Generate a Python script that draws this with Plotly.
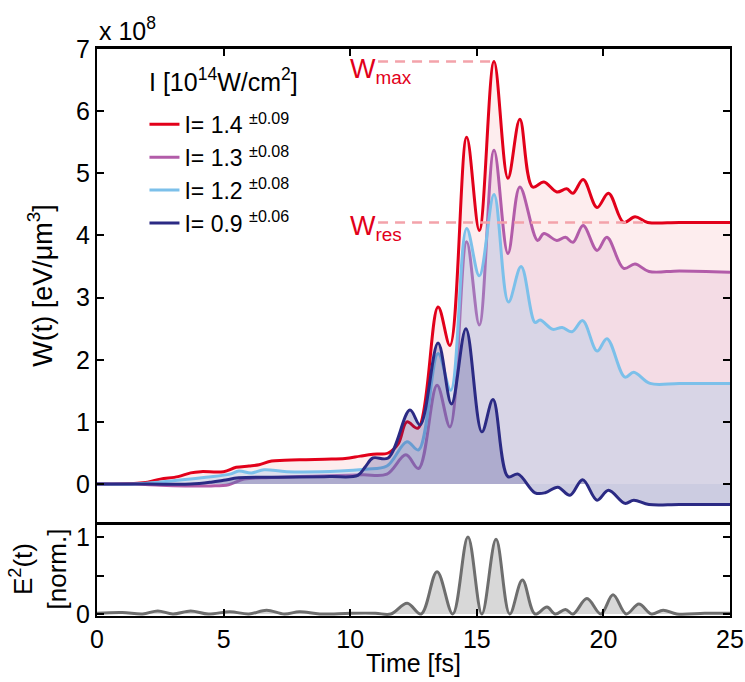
import plotly.graph_objects as go

# ---------------- data ----------------
t_14 = [0, 1.0, 2.0, 2.5, 3.2, 3.7, 4.1, 5.0, 5.5, 6.0, 6.4, 6.9, 8.0, 9.0, 9.8, 10.4, 10.9, 11.5, 11.9,
        12.24, 12.68, 13.47, 13.94, 14.6, 15.1, 15.68, 16.23, 16.7, 17.2, 17.65, 18.16, 18.55, 18.8,
        19.2, 19.75, 20.2, 20.8, 21.25, 21.75, 23.0, 25.0]
w_14 = [0, 0.0, 0.03, 0.08, 0.12, 0.18, 0.2, 0.2, 0.27, 0.29, 0.31, 0.37, 0.39, 0.4, 0.41, 0.45, 0.48, 0.5, 0.65,
        1.0, 0.9, 2.85, 2.23, 5.58, 4.08, 6.8, 4.92, 5.87, 4.78, 4.86, 4.7, 4.75, 4.68,
        4.9, 4.45, 4.68, 4.21, 4.3, 4.21, 4.21, 4.21]

t_13 = [0, 1.5, 2.5, 3.5, 4.5, 5.2, 5.8, 6.5, 8.0, 9.5, 10.5, 11.45, 12.2, 12.7, 13.43, 13.94, 14.6, 15.1,
        15.68, 16.23, 16.7, 17.4, 17.65, 18.16, 18.5, 18.8, 19.2, 19.75, 20.14, 20.8, 21.25, 21.8, 23.0, 25.0]
w_13 = [0, 0.0, -0.02, -0.03, -0.03, -0.01, 0.08, 0.1, 0.12, 0.14, 0.15, 0.16, 0.47, 0.25, 1.59, 0.92, 3.9, 2.56,
        5.37, 3.71, 4.78, 3.92, 4.03, 3.92, 3.97, 3.89, 4.16, 3.76, 3.97, 3.47, 3.54, 3.42, 3.43, 3.41]

t_12 = [0, 1.5, 2.4, 3.7, 4.3, 5.25, 5.6, 6.1, 6.6, 7.5, 9.6, 10.6, 11.45, 12.24, 12.7, 13.47, 13.97, 14.6,
        15.1, 15.68, 16.25, 16.75, 17.3, 17.5, 18.0, 18.37, 18.76, 19.18, 19.75, 20.14, 20.85, 21.2,
        21.84, 23.0, 25.0]
w_12 = [0, 0.0, 0.03, 0.08, 0.11, 0.16, 0.21, 0.18, 0.23, 0.2, 0.21, 0.24, 0.29, 0.68, 0.55, 2.1, 1.51, 4.11,
        3.35, 4.66, 2.93, 3.5, 2.6, 2.64, 2.49, 2.52, 2.45, 2.63, 2.14, 2.34, 1.72, 1.8,
        1.62, 1.62, 1.62]

t_09 = [0, 2.0, 3.7, 4.5, 5.0, 5.6, 7.0, 9.2, 10.3, 10.6, 10.9, 11.5, 12.36, 12.76, 13.47, 14.0, 14.57,
        15.2, 15.64, 16.23, 16.63, 17.3, 17.7, 18.2, 18.68, 19.18, 19.75, 20.2, 20.85, 21.2, 21.8, 23.0, 25.0]
w_09 = [0, 0.0, 0.0, 0.03, 0.06, 0.1, 0.11, 0.12, 0.14, 0.28, 0.42, 0.42, 1.19, 0.95, 2.27, 1.29, 2.5,
        0.84, 1.36, 0.12, 0.16, -0.14, -0.14, -0.05, -0.18, 0.07, -0.26, -0.1, -0.31, -0.26, -0.33, -0.33, -0.33]

t_e2 = [0, 1.0, 1.8, 2.4, 3.0, 3.7, 4.4, 5.25, 6.0, 6.7, 7.4, 8.0, 8.8, 10.0, 11.0, 11.6, 12.25, 12.8, 13.43,
        14.05, 14.65, 15.2, 15.76, 16.3, 16.8, 17.3, 17.77, 18.1, 18.5, 18.8, 19.35, 19.9, 20.38, 20.9,
        21.4, 21.9, 22.36, 22.9, 24.0, 25.0]
e2 = [0.01, 0.02, 0.0, 0.04, 0.0, 0.04, 0.0, 0.03, 0.0, 0.05, 0.0, 0.03, 0.0, 0.01, 0.01, 0.0, 0.14, 0.0, 0.55,
      0.0, 1.0, 0.0, 0.97, 0.0, 0.44, 0.0, 0.09, 0.0, 0.06, 0.0, 0.2, 0.0, 0.25, 0.0,
      0.13, 0.0, 0.05, 0.0, 0.01, 0.01]

labels = ["I= 1.4 <sup>±0.09</sup>", "I= 1.3 <sup>±0.08</sup>", "I= 1.2 <sup>±0.08</sup>", "I= 0.9 <sup>±0.06</sup>"]
legend_title = "I [10<sup>14</sup>W/cm<sup>2</sup>]"
x_ticks = [0, 5, 10, 15, 20, 25]
y_ticks = [0, 1, 2, 3, 4, 5, 6, 7]

# ---------------- styling ----------------
FONT = "Liberation Sans, Arial, sans-serif"
FS = 25
line_cols = ["#e2001a", "#b25ca9", "#7cc0ea", "#2b2a84"]
fill_cols = ["rgba(230,0,18,0.07)", "rgba(170,80,160,0.10)", "rgba(130,190,235,0.25)", "rgba(40,40,130,0.24)"]

series = [(t_14, w_14), (t_13, w_13), (t_12, w_12), (t_09, w_09)]

fig = go.Figure()
for (tt, ww), lab, lc, fc in zip(series, labels, line_cols, fill_cols):
    fig.add_trace(go.Scatter(x=tt, y=ww, mode="lines", name=lab, showlegend=False,
                             line=dict(color=lc, width=3, shape="spline", smoothing=1.0),
                             fill="tozeroy", fillcolor=fc, xaxis="x", yaxis="y"))

# legend entries (line-only samples)
for lab, lc in zip(labels, line_cols):
    fig.add_trace(go.Scatter(x=[None], y=[None], mode="lines", name=lab,
                             line=dict(color=lc, width=3), xaxis="x", yaxis="y"))

# W_max / W_res reference lines
wmax = max(w_14)
t_wmax = t_14[w_14.index(wmax)]
wres = w_14[-1]
t_start = 11.1
fig.add_trace(go.Scatter(x=[t_start, t_wmax], y=[wmax, wmax], mode="lines", showlegend=False,
                         line=dict(color="#f3a3aa", width=2.5, dash="10px,7px"), xaxis="x", yaxis="y"))
fig.add_trace(go.Scatter(x=[t_start, 21.75], y=[wres, wres], mode="lines", showlegend=False,
                         line=dict(color="#f3a3aa", width=2.5, dash="10px,7px"), xaxis="x", yaxis="y"))

# E^2 panel
fig.add_trace(go.Scatter(x=t_e2, y=e2, mode="lines", showlegend=False,
                         line=dict(color="#6e6e6e", width=3, shape="spline", smoothing=1.0),
                         fill="tozeroy", fillcolor="#d8d8d8", xaxis="x2", yaxis="y2"))

split = 0.1658
axis_common = dict(showline=True, linecolor="black", linewidth=2, ticks="inside", ticklen=7,
                   tickwidth=2, tickcolor="black", showgrid=False, zeroline=False, automargin=False,
                   tickfont=dict(family=FONT, size=FS, color="black"))

fig.update_layout(
    width=745, height=682,
    margin=dict(l=97, r=15, t=49, b=66, autoexpand=False),
    paper_bgcolor="white", plot_bgcolor="white",
    font=dict(family=FONT, size=FS, color="black"),
    xaxis=dict(axis_common, domain=[0, 1], range=[0, 25], anchor="y", side="top", mirror=True,
               linewidth=2.5, tickvals=x_ticks, showticklabels=False, matches="x2"),
    yaxis=dict(axis_common, domain=[split, 1], range=[-0.61, 7], anchor="x", mirror="ticks",
               tickvals=y_ticks,
               title=dict(text="W(t) [eV/μm<sup>3</sup>]", standoff=16, font=dict(family=FONT, size=27))),
    xaxis2=dict(axis_common, domain=[0, 1], range=[0, 25], anchor="y2", side="bottom", mirror=False,
                tickvals=x_ticks,
                title=dict(text="Time [fs]", standoff=2, font=dict(family=FONT, size=FS))),
    yaxis2=dict(axis_common, domain=[0, split], range=[-0.026, 1.195], anchor="x2", mirror="ticks",
                tickvals=[0, 0.5, 1], ticktext=["0", "", "1"],
                title=dict(text="E<sup>2</sup>(t)<br>[norm.]", standoff=2, font=dict(family=FONT, size=26))),
    legend=dict(x=0.075, y=0.905, xanchor="left", yanchor="top", bgcolor="rgba(0,0,0,0)",
                font=dict(family=FONT, size=23), tracegroupgap=0),
    showlegend=True,
)

fig.add_annotation(x=5.0, y=6.5, xref="x", yref="y", text=legend_title, showarrow=False,
                   xanchor="center", yanchor="middle", font=dict(family=FONT, size=25))
fig.add_annotation(x=9.9, y=6.95, xref="x", yref="y", text="W<sub>max</sub>", showarrow=False,
                   xanchor="left", yanchor="top", font=dict(family=FONT, size=27, color="#e2001a"))
fig.add_annotation(x=9.9, y=4.42, xref="x", yref="y", text="W<sub>res</sub>", showarrow=False,
                   xanchor="left", yanchor="top", font=dict(family=FONT, size=27, color="#e2001a"))
fig.add_annotation(x=0, y=1, xref="paper", yref="paper", text="x 10<sup>8</sup>", showarrow=False,
                   xanchor="left", yanchor="bottom", yshift=2, font=dict(family=FONT, size=FS))

fig.write_html("out.html")
